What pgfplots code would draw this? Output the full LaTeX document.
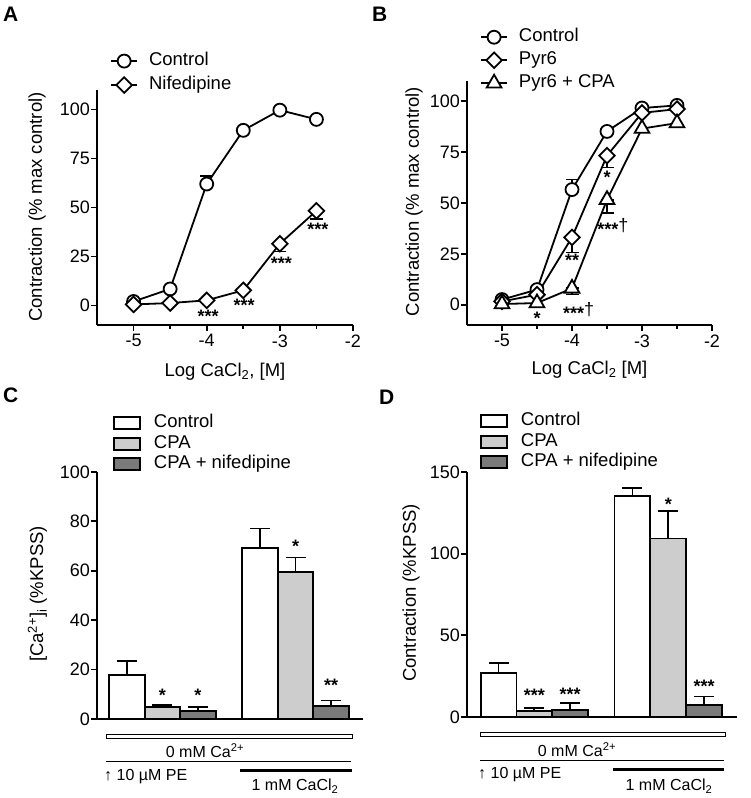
\documentclass[border=0pt]{standalone}
\usepackage{pgfplots}
\pgfplotsset{compat=1.18}
\usepackage{fontspec}
\setmainfont{Liberation Sans}
\definecolor{cpagray}{RGB}{205,205,205}
\definecolor{nifgray}{RGB}{122,122,122}
\newcommand{\fs}[1]{\fontsize{#1}{#1}\selectfont}
\tikzset{sig/.style={font=\fs{18}\bfseries}}
\pgfplotsset{
  panel/.style={
    scale only axis, clip=false,
    axis lines*=left,
    axis line style={line width=1.8pt, -},
    tick style={line width=1.8pt, black},
    tick align=outside,
    major tick length=6pt,
    minor tick length=4pt,
    tick label style={font=\fs{18}},
    /pgf/number format/assume math mode=true,
    yticklabel style={inner xsep=1pt},
    label style={font=\fs{18.5}},
    legend cell align=left,
  },
  curvelegend/.style={
    legend image code/.code={\draw[mark repeat=2, mark phase=2, ##1] plot coordinates {(0pt,0pt) (13pt,0pt) (26pt,0pt)};},
  },
  barlegend/.style={
    legend image code/.code={\draw[##1, line width=1.8pt] (0pt,-6pt) rectangle (26pt,6pt);},
  },
  ctrl/.style={line width=1.8pt, black, mark=*, mark size=6.5pt, mark options={fill=white, draw=black, line width=1.8pt}},
  diam/.style={line width=1.8pt, black, mark=square*, mark size=5.5pt, mark options={fill=white, draw=black, line width=1.8pt, rotate=45}},
  tri/.style={line width=1.8pt, black, mark=triangle*, mark size=8.5pt, mark options={fill=white, draw=black, line width=1.8pt}},
  errs/.style={forget plot, only marks, mark=none, error bars/.cd, y dir=both, y explicit,
    error bar style={line width=1.8pt, black}, error mark options={rotate=90, line width=1.8pt, black, mark size=6.5pt}},
  barerr/.style={error bars/.cd, y dir=plus, y explicit,
    error bar style={line width=1.8pt, black}, error mark options={rotate=90, line width=1.8pt, black, mark size=10pt}},
}
\begin{document}
\begin{tikzpicture}
\useasboundingbox (0pt,0pt) rectangle (750pt,798pt);
% Panel letters
\node[anchor=base west, inner sep=0pt, font=\fs{21}\bfseries] at (3pt,776pt) {A};
\node[anchor=base west, inner sep=0pt, font=\fs{21}\bfseries] at (372pt,776pt) {B};
\node[anchor=base west, inner sep=0pt, font=\fs{21}\bfseries] at (3pt,395pt) {C};
\node[anchor=base west, inner sep=0pt, font=\fs{21}\bfseries] at (379pt,393pt) {D};

% ---------------- Panel A
\begin{axis}[panel, curvelegend,
  at={(97pt,473pt)}, anchor=south west, width=256pt, height=235pt,
  xmin=-5.5, xmax=-2, ymin=-10, ymax=110,
  xtick={-5,-4,-3,-2}, xticklabels={-5,-4,-3,-2}, minor xtick={-4.5,-3.5,-2.5},
  ytick={0,25,50,75,100},
  xlabel={Log CaCl\textsubscript{2}, [M]},
  ylabel={Contraction (\% max control)},
  xlabel style={at={(axis description cs:0.5,-0.2)}, anchor=center},
  ylabel style={at={(axis description cs:-0.234,0.502)}, anchor=center},
  legend style={at={(axis description cs:0.051,1.16)}, anchor=north west, draw=none, fill=none,
    inner sep=0pt, row sep=7pt, column sep=11pt, font=\fs{18.5},
    nodes={inner sep=0pt, text height=13pt, text depth=4pt}},
]
\addplot[errs] coordinates {(-4,62) += (0,4) -= (0,0)};
\addplot[errs] coordinates {(-3,31.5) += (0,0) -= (0,4) (-2.5,48.3) += (0,0) -= (0,4.3)};
\addplot[ctrl] coordinates {(-5,2) (-4.5,8.4) (-4,62) (-3.5,89.4) (-3,99.7) (-2.5,95)};
\addlegendentry{Control}
\addplot[diam] coordinates {(-5,0.5) (-4.5,1.2) (-4,2.6) (-3.5,7.7) (-3,31.5) (-2.5,48.3)};
\addlegendentry{Nifedipine}
\node[sig] at (axis cs:-3.98,-5.5) {***};
\node[sig] at (axis cs:-3.49,0) {***};
\node[sig] at (axis cs:-2.98,21.5) {***};
\node[sig] at (axis cs:-2.48,39) {***};
\end{axis}

% ---------------- Panel B
\begin{axis}[panel, curvelegend,
  at={(467pt,473pt)}, anchor=south west, width=245pt, height=244pt,
  xmin=-5.5, xmax=-2, ymin=-10, ymax=110,
  xtick={-5,-4,-3,-2}, xticklabels={-5,-4,-3,-2}, minor xtick={-4.5,-3.5,-2.5},
  ytick={0,25,50,75,100},
  xlabel={Log CaCl\textsubscript{2} [M]},
  ylabel={Contraction (\% max control)},
  xlabel style={at={(axis description cs:0.5,-0.184)}, anchor=center},
  ylabel style={at={(axis description cs:-0.216,0.506)}, anchor=center},
  legend style={at={(axis description cs:0.053,1.215)}, anchor=north west, draw=none, fill=none,
    inner sep=0pt, row sep=6pt, column sep=11pt, font=\fs{18.5},
    nodes={inner sep=0pt, text height=13pt, text depth=4pt}},
]
\addplot[errs] coordinates {(-4,56.6) += (0,5) -= (0,0)};
\addplot[errs] coordinates {(-4,33.1) += (0,0) -= (0,7.4) (-3.5,73.3) += (0,0) -= (0,5.8)};
\addplot[errs] coordinates {(-4,8) += (0,0) -= (0,3) (-3.5,51.6) += (0,0) -= (0,6.6)};
\addplot[ctrl] coordinates {(-5,2.5) (-4.5,7.4) (-4,56.6) (-3.5,85.2) (-3,96.7) (-2.5,98)};
\addlegendentry{Control}
\addplot[diam] coordinates {(-5,1.6) (-4.5,4.9) (-4,33.1) (-3.5,73.3) (-3,94.3) (-2.5,96.2)};
\addlegendentry{Pyr6}
\addplot[tri] coordinates {(-5,0.3) (-4.5,0.8) (-4,8) (-3.5,51.6) (-3,86.6) (-2.5,89.3)};
\addlegendentry{Pyr6 + CPA}
\node[sig] at (axis cs:-4.5,-6.5) {*};
\node[sig] at (axis cs:-4.0,22) {**};
\node[sig, anchor=base west, inner sep=0pt] at (axis cs:-4.13,-5.5) {\raisebox{-4pt}{***}{\mdseries †}};
\node[sig] at (axis cs:-3.5,62.5) {*};
\node[sig, anchor=base west, inner sep=0pt] at (axis cs:-3.64,36) {\raisebox{-4pt}{***}{\mdseries †}};
\end{axis}

% ---------------- Panel C
\begin{axis}[panel, barlegend,
  at={(97pt,79pt)}, anchor=south west, width=266pt, height=247pt,
  xmin=-0.845, xmax=6.65, ymin=0, ymax=100,
  xtick=\empty, ytick={0,20,40,60,80,100},
  ylabel={[Ca\textsuperscript{2+}]\textsubscript{i} (\%KPSS)},
  ylabel style={at={(axis description cs:-0.224,0.506)}, anchor=center},
  legend style={at={(axis description cs:0.06,1.233)}, anchor=north west, draw=none, fill=none,
    inner sep=0pt, row sep=3.5pt, column sep=13pt, font=\fs{18.5},
    nodes={inner sep=0pt, text height=13pt, text depth=4pt}},
]
\addplot[ybar, bar width=1, bar shift=0pt, fill=white, draw=black, line width=1.8pt, barerr]
  coordinates {(0,17.9) +- (0,5.6) (3.75,69.3) +- (0,7.8)};
\addlegendentry{Control}
\addplot[ybar, bar width=1, bar shift=0pt, fill=cpagray, draw=black, line width=1.8pt, barerr]
  coordinates {(1,4.8) +- (0,1.0) (4.75,59.4) +- (0,6.0)};
\addlegendentry{CPA}
\addplot[ybar, bar width=1, bar shift=0pt, fill=nifgray, draw=black, line width=1.8pt, barerr]
  coordinates {(2,3.1) +- (0,1.6) (5.75,5.4) +- (0,2.1)};
\addlegendentry{CPA + nifedipine}
\node[sig] at (axis cs:1,9.5) {*};
\node[sig] at (axis cs:2,9.5) {*};
\node[sig] at (axis cs:4.75,70) {*};
\node[sig] at (axis cs:5.75,13.5) {**};
\end{axis}

% ---------------- Panel D
\begin{axis}[panel, barlegend,
  at={(467pt,81pt)}, anchor=south west, width=270pt, height=245pt,
  xmin=-0.88, xmax=6.66, ymin=0, ymax=150,
  xtick=\empty, ytick={0,50,100,150},
  ylabel={Contraction (\%KPSS)},
  ylabel style={at={(axis description cs:-0.207,0.506)}, anchor=center},
  legend style={at={(axis description cs:0.048,1.243)}, anchor=north west, draw=none, fill=none,
    inner sep=0pt, row sep=3.5pt, column sep=13pt, font=\fs{18.5},
    nodes={inner sep=0pt, text height=13pt, text depth=4pt}},
]
\addplot[ybar, bar width=1, bar shift=0pt, fill=white, draw=black, line width=1.8pt, barerr]
  coordinates {(0,26.9) +- (0,6.1) (3.74,135.1) +- (0,5.3)};
\addlegendentry{Control}
\addplot[ybar, bar width=1, bar shift=0pt, fill=cpagray, draw=black, line width=1.8pt, barerr]
  coordinates {(1,3.9) +- (0,1.6) (4.74,109.3) +- (0,16.7)};
\addlegendentry{CPA}
\addplot[ybar, bar width=1, bar shift=0pt, fill=nifgray, draw=black, line width=1.8pt, barerr]
  coordinates {(2,4.5) +- (0,4.0) (5.74,7.5) +- (0,5.1)};
\addlegendentry{CPA + nifedipine}
\node[sig] at (axis cs:1,13) {***};
\node[sig] at (axis cs:2,14) {***};
\node[sig] at (axis cs:4.74,130) {*};
\node[sig] at (axis cs:5.74,19) {***};
\end{axis}

% ---------------- annotations under C
\draw[line width=0.8pt, fill=white] (106pt,59.7pt) rectangle (352pt,63.7pt);
\node[font=\fs{16}] at (205pt,47pt) {0 mM Ca\textsuperscript{2+}};
\draw[line width=0.8pt] (106pt,37pt) -- (351pt,37pt);
\node[font=\fs{16}, anchor=west, inner sep=0pt] at (104pt,21pt) {↑ 10 µM PE};
\draw[line width=3pt] (240pt,27pt) -- (352pt,27pt);
\node[font=\fs{16}] at (295pt,12pt) {1 mM CaCl\textsubscript{2}};
% ---------------- annotations under D
\draw[line width=0.8pt, fill=white] (480pt,62pt) rectangle (725pt,66pt);
\node[font=\fs{16}] at (577pt,48pt) {0 mM Ca\textsuperscript{2+}};
\draw[line width=0.8pt] (480pt,38pt) -- (724pt,38pt);
\node[font=\fs{16}, anchor=west, inner sep=0pt] at (478pt,23pt) {↑ 10 µM PE};
\draw[line width=3pt] (613pt,28pt) -- (724pt,28pt);
\node[font=\fs{16}] at (669pt,12pt) {1 mM CaCl\textsubscript{2}};
\end{tikzpicture}
\end{document}
